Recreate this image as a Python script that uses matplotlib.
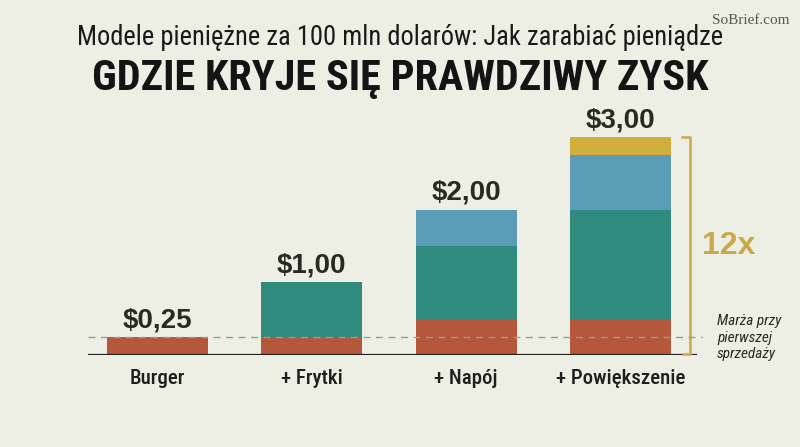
import numpy as np
import matplotlib.pyplot as plt

# data
categories = ["Burger", "+ Frytki", "+ Napój", "+ Powiększenie"]
burger = [0.25, 0.25, 0.50, 0.50]
fries = [0.00, 0.75, 1.00, 1.50]
drink = [0.00, 0.00, 0.50, 0.75]
upsize = [0.00, 0.00, 0.00, 0.25]
totals = ["$0,25", "$1,00", "$2,00", "$3,00"]
first_margin = 0.25

bg = "#EEEFE4"
colors = ["#B5573A", "#2E8B7D", "#5B9DB8", "#D2AE3C"]
gold = "#C9AA4A"
cond = ["Roboto Condensed", "DejaVu Sans"]
heavy = ["Liberation Sans", "DejaVu Sans"]

fig = plt.figure(figsize=(8, 4.47), dpi=100, facecolor=bg)
ax = fig.add_axes([87.5 / 800, 92 / 447, 609.5 / 800, 261.7 / 447])
ax.set_facecolor(bg)

x = np.arange(len(categories))
w = 0.654
bottom = np.zeros(len(categories))
for vals, c in zip([burger, fries, drink, upsize], colors):
    vals = np.array(vals)
    ax.bar(x, vals, w, bottom=bottom, color=c, zorder=2)
    bottom += vals

for xi, tot, lab, cat in zip(x, bottom, totals, categories):
    ax.annotate(lab, (xi, tot), xytext=(0, 7), textcoords="offset points",
                ha="center", va="baseline", fontsize=20, fontweight="bold",
                color="#2a2a24", family=heavy)
    ax.text(xi, -0.32, cat, ha="center", va="center", fontsize=15,
            fontweight=500, color="#1e1e1e", family=cond)

ax.set_xlim(-0.45, 3.495)
ax.set_ylim(0, 3.6)
ax.axhline(0, color="#222222", lw=1.6, zorder=3)
ax.hlines(first_margin, -0.45, 3.53, colors="#9a9a94", linestyles=(0, (5, 4)),
          lw=1, zorder=4, clip_on=False)

# bracket showing the 12x jump
bx = 3.45
ax.plot([bx - 0.055, bx, bx, bx - 0.045], [bottom[-1], bottom[-1], 0.01, 0.01],
        color=gold, lw=1.8, zorder=3, clip_on=False)
ax.text(3.53, 1.5, "12x", fontsize=23, fontweight="bold", color=gold,
        va="center", ha="left", family=heavy)
ax.text(3.625, 0.24, "Marża przy\npierwszej\nsprzedaży", fontsize=11, style="italic",
        color="#2a2a24", va="center", ha="left", linespacing=1.25, family=cond)

for s in ax.spines.values():
    s.set_visible(False)
ax.set_xticks([])
ax.set_yticks([])

fig.text(0.4995, 0.917, "Modele pieniężne za 100 mln dolarów: Jak zarabiać pieniądze",
         ha="center", va="center", fontsize=19.1, color="#1a1a1a", family=cond)
fig.text(0.5, 0.8255, "GDZIE KRYJE SIĘ PRAWDZIWY ZYSK", ha="center", va="center",
         fontsize=30.4, fontweight="bold", color="#141414", family=cond)
fig.text(0.987, 0.955, "SoBrief.com", ha="right", va="center", fontsize=11,
         color="#555555", family=["Liberation Serif", "DejaVu Serif"])

fig.savefig("out.png", dpi=100, facecolor=bg)
